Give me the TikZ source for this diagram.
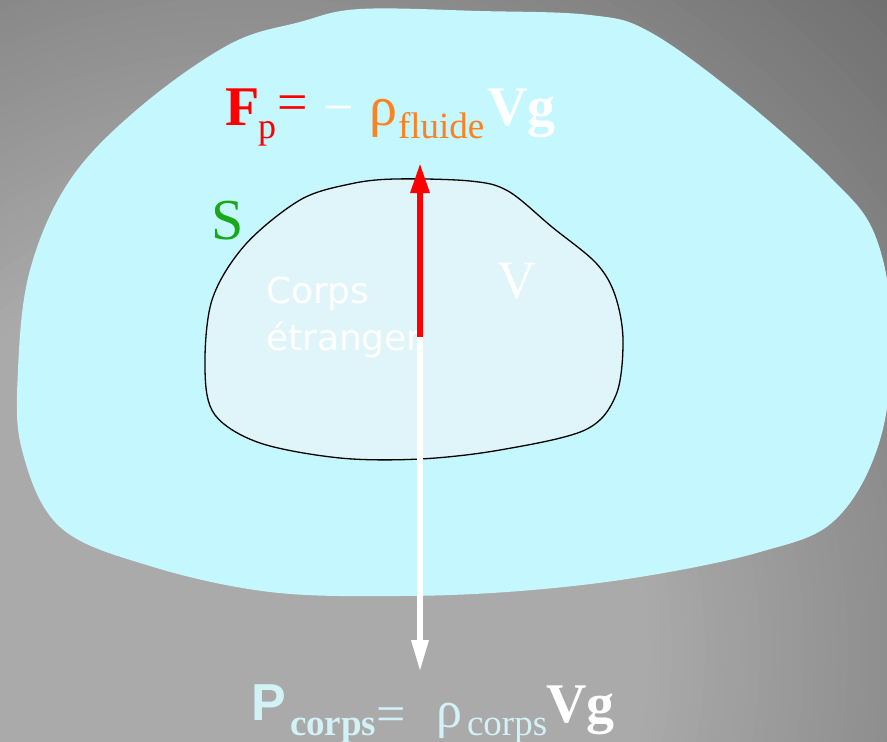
\documentclass[tikz,border=0pt]{standalone}
\usepackage{fontspec}
\setmainfont{Liberation Serif}
\newfontfamily\vsans{DejaVu Sans}
\newfontfamily\hsans{Liberation Sans}
\usetikzlibrary{arrows.meta}
\definecolor{bglight}{HTML}{AAAAAA}
\definecolor{bgdark}{HTML}{6C6C6C}
\definecolor{fluid}{HTML}{C4F8FE}
\definecolor{bodyc}{HTML}{DFF5F9}
\definecolor{sgreen}{HTML}{18A818}
\definecolor{forange}{HTML}{FF8020}
\definecolor{pcyan}{HTML}{D2F2F6}
\newcommand{\fsz}[1]{\fontsize{#1}{#1}\selectfont}
\begin{document}
\begin{tikzpicture}[x=1pt,y=-1pt,
  txt/.style={anchor=base west, inner sep=0pt, outer sep=0pt}]
\useasboundingbox (0,0) rectangle (887,742);
\begin{scope}
\clip (0,0) rectangle (887,742);
\fill[bgdark] (0,0) rectangle (887,742);
\foreach \i in {0,...,50} {
  \pgfmathsetmacro{\r}{950-\i*11}
  \pgfmathtruncatemacro{\p}{2*\i}
  \fill[bglight!\p!bgdark] (250,650) circle[radius=\r];
}
\fill[fluid] plot[smooth cycle, tension=0.6] coordinates {
 (360,9) (480,11) (590,15) (650,32) (740,97) (830,177) (875,235)
 (892,330) (880,440) (835,520) (760,552) (640,577) (520,591) (400,596)
 (270,592) (150,566) (60,527) (22,450) (18,370) (30,270) (70,180)
 (140,107) (230,44) (300,22)};
\end{scope}
\draw[black, line width=1.3pt, fill=bodyc] plot[smooth cycle, tension=0.55] coordinates {
 (395,179) (470,181) (508,191) (552,227) (596,263) (615,295) (623,340)
 (616,395) (585,430) (500,450) (420,459) (340,458) (260,443) (215,415)
 (205,370) (212,300) (245,245) (300,200) (350,184)};
% labels
\node[txt, text=sgreen, font=\fsz{58}] (S) at (211,239) {S};
\node[txt, text=white, font=\fsz{54}] (V) at (497,298) {V};
\node[txt, text=white, font=\vsans\fsz{36}] (corps1) at (266,303) {Corps};
\node[txt, text=white, font=\vsans\fsz{36}] (corps2) at (266,350) {étranger};
% arrows
\coordinate (o) at (420,337);
\coordinate (ftip) at (420,163);
\coordinate (ptip) at (420,672);
\draw[white, line width=6pt, -{Triangle[length=32pt,width=16pt]}] (o) -- (ptip);
\draw[red, line width=6pt, -{Triangle[length=30pt,width=18pt]}] (o) -- (ftip);
% top formula
\node[txt, text=red, font=\fsz{56}\bfseries] (F) at (225,125) {F};
\node[txt, text=red, font=\fsz{36}] (Fp) at (258,138) {p};
\node[txt, text=red, font=\fsz{54}] (eq1) at (277,120) {=};
\node[txt, text=white, font=\fsz{54}] (minus) at (323,125) {−};
\node[txt, text=forange, font=\fsz{56}] (rho1) at (369,125) {ρ};
\node[txt, text=forange, font=\fsz{37}] (fluide) at (398,138) {fluide};
\node[txt, text=white, font=\fsz{56}\bfseries] (Vg1) at (487,125) {Vg};
% bottom formula
\node[txt, text=pcyan, font=\hsans\bfseries\fsz{52}] (P) at (251,720) {P};
\node[txt, text=pcyan, font=\fsz{37}\bfseries] (Psub) at (290,735) {corps};
\node[txt, text=pcyan, font=\fsz{52}] (eq2) at (376,731) {=};
\node[txt, text=pcyan, font=\fsz{52}] (rho2) at (436,727) {ρ};
\node[txt, text=pcyan, font=\fsz{37}] (rsub) at (467,735) {corps};
\node[txt, text=white, font=\fsz{56}\bfseries] (Vg2) at (546,722) {Vg};
\end{tikzpicture}
\end{document}
